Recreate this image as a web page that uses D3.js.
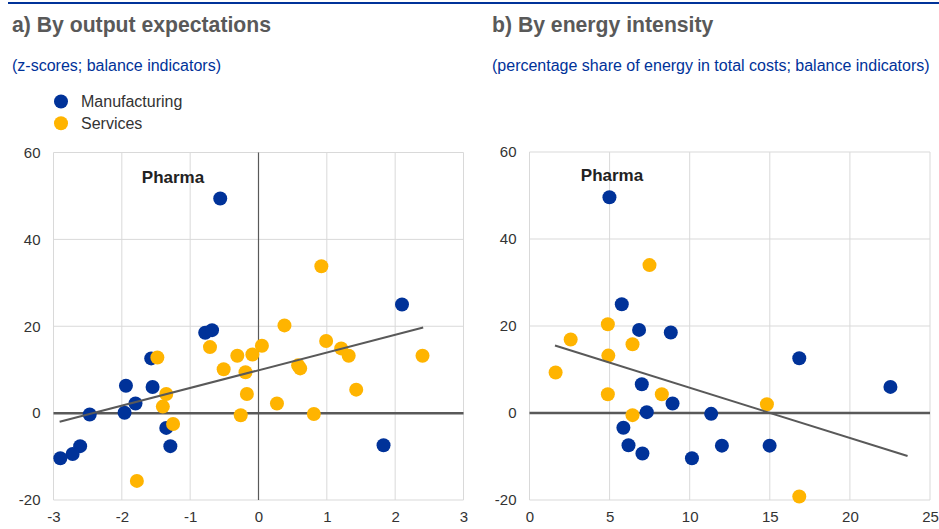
<!DOCTYPE html>
<html><head><meta charset="utf-8">
<script src="https://cdn.jsdelivr.net/npm/d3@7"></script>
<style>
body{margin:0;background:#fff;}
svg{display:block;font-family:"Liberation Sans",Arial,sans-serif;}
</style></head>
<body><svg id="c" width="939" height="529"></svg>
<script>
// ---------- DATA ----------
const seriesNames = ["Manufacturing", "Services"];
const seriesColors = ["#003299", "#FFB400"];
// Panel a) output expectations (z-score, balance)
const aManufX = [-0.56,-0.78,-0.68,-1.57,-1.94,-1.55,-1.80,-1.96,-2.47,-1.35,-1.29,-2.61,-2.72,-2.90,1.83,2.10];
const aManufY = [49.4,18.5,19.1,12.6,6.3,6.0,2.2,0.1,-0.3,-3.4,-7.6,-7.6,-9.4,-10.4,-7.4,25.0];
const aServX = [-1.48,-1.35,-1.40,-1.25,-1.78,-0.71,-0.31,-0.09,-0.51,-0.19,-0.17,-0.26,0.05,0.38,0.99,1.21,1.32,0.58,0.61,0.27,1.43,0.81,2.40,0.92];
const aServY = [12.8,4.4,1.5,-2.5,-15.6,15.2,13.2,13.5,10.1,9.4,4.4,-0.5,15.5,20.2,16.6,14.9,13.2,11.0,10.3,2.2,5.4,-0.2,13.2,33.8];
const aTrendX = [-2.91, 2.41];
const aTrendY = [-2.0, 19.7];
// Panel b) energy intensity (% share of energy in total costs, balance)
const bManufX = [4.99,5.76,6.84,8.82,7.01,8.93,7.32,11.34,5.86,6.18,7.05,10.14,16.84,22.53,12.01,14.99];
const bManufY = [49.6,25.0,19.1,18.5,6.6,2.2,0.2,-0.2,-3.4,-7.4,-9.3,-10.4,12.6,6.0,-7.5,-7.5];
const bServX = [7.49,4.89,2.57,6.43,4.92,1.63,4.89,8.26,6.43,14.82,16.84];
const bServY = [34.0,20.4,16.9,15.8,13.2,9.3,4.3,4.3,-0.5,2.0,-19.2];
const bTrendX = [1.59, 23.6];
const bTrendY = [15.5, -9.9];
const aXTicks = [-3,-2,-1,0,1,2,3];
const bXTicks = [0,5,10,15,20,25];
const yTicks = [-20,0,20,40,60];
const titles = ["a) By output expectations", "b) By energy intensity"];
const subtitles = ["(z-scores; balance indicators)", "(percentage share of energy in total costs; balance indicators)"];
const annot = "Pharma";

// ---------- DRAW ----------
const svg = d3.select("#c");
const blue = "#003299", dark = "#595959", grid = "#d9d9d9";

svg.append("line").attr("x1",8).attr("x2",939).attr("y1",3).attr("y2",3)
  .attr("stroke",blue).attr("stroke-width",2);

const panels = [
  {x0:12, xr:[53.5,463.5], xd:[-3,3], xt:aXTicks, yr:[500,152.5],
   m:[aManufX,aManufY], s:[aServX,aServY], t:[aTrendX,aTrendY], vzero:true, labX:173, labY:183},
  {x0:492, xr:[529.5,930], xd:[0,25], xt:bXTicks, yr:[500,152],
   m:[bManufX,bManufY], s:[bServX,bServY], t:[bTrendX,bTrendY], vzero:false, labX:612, labY:181}
];

panels.forEach((p,i)=>{
  const g = svg.append("g");
  g.append("text").attr("x",p.x0).attr("y",32).text(titles[i])
    .attr("font-size",21.2).attr("font-weight","bold").attr("fill",dark);
  g.append("text").attr("x",p.x0).attr("y",71).text(subtitles[i])
    .attr("font-size",16).attr("fill",blue);

  const x = d3.scaleLinear().domain(p.xd).range(p.xr);
  const y = d3.scaleLinear().domain([-20,60]).range(p.yr);

  // grid
  g.selectAll(".vg").data(p.xt).join("line")
    .attr("x1",d=>x(d)).attr("x2",d=>x(d)).attr("y1",y(60)).attr("y2",y(-20))
    .attr("stroke",grid).attr("stroke-width",1);
  g.selectAll(".hg").data(yTicks).join("line")
    .attr("x1",x(p.xd[0])).attr("x2",x(p.xd[1])).attr("y1",d=>y(d)).attr("y2",d=>y(d))
    .attr("stroke",grid).attr("stroke-width",1);

  // axes labels via d3 axes
  const fmt = d=>String(d);
  const xa = g.append("g").attr("transform",`translate(0,${y(-20)})`)
    .call(d3.axisBottom(x).tickValues(p.xt).tickSize(0).tickPadding(11).tickFormat(fmt));
  const ya = g.append("g").attr("transform",`translate(${x(p.xd[0])},0)`)
    .call(d3.axisLeft(y).tickValues(yTicks).tickSize(0).tickPadding(13).tickFormat(fmt));
  [xa,ya].forEach(a=>{
    a.select(".domain").remove();
    a.selectAll("text").attr("font-size",15).attr("fill","#333")
      .attr("font-family","'Liberation Sans',Arial,sans-serif");
  });

  if(p.vzero){
    g.append("line").attr("x1",x(0)).attr("x2",x(0)).attr("y1",y(60)).attr("y2",y(-20))
      .attr("stroke",dark).attr("stroke-width",1.2);
  }
  g.append("line").attr("x1",x(p.xd[0])).attr("x2",x(p.xd[1])).attr("y1",y(0)).attr("y2",y(0))
    .attr("stroke",dark).attr("stroke-width",2.5);

  const mk = (arr,col)=>{
    g.append("g").selectAll("circle").data(arr[0].map((v,k)=>[v,arr[1][k]])).join("circle")
      .attr("cx",d=>x(d[0])).attr("cy",d=>y(d[1])).attr("r",7).attr("fill",col);
  };
  mk(p.m, seriesColors[0]);
  mk(p.s, seriesColors[1]);

  g.append("line").attr("x1",x(p.t[0][0])).attr("y1",y(p.t[1][0]))
    .attr("x2",x(p.t[0][1])).attr("y2",y(p.t[1][1]))
    .attr("stroke",dark).attr("stroke-width",2);

  g.append("text").attr("x",p.labX).attr("y",p.labY).attr("text-anchor","middle")
    .text(annot).attr("font-size",17).attr("font-weight","bold").attr("fill","#222");
});

// legend
const leg = svg.append("g");
seriesNames.forEach((n,i)=>{
  leg.append("circle").attr("cx",61).attr("cy",101.5+i*21.7).attr("r",7).attr("fill",seriesColors[i]);
  leg.append("text").attr("x",81).attr("y",107+i*21.7).text(n).attr("font-size",16).attr("fill","#333");
});
</script></body></html>
